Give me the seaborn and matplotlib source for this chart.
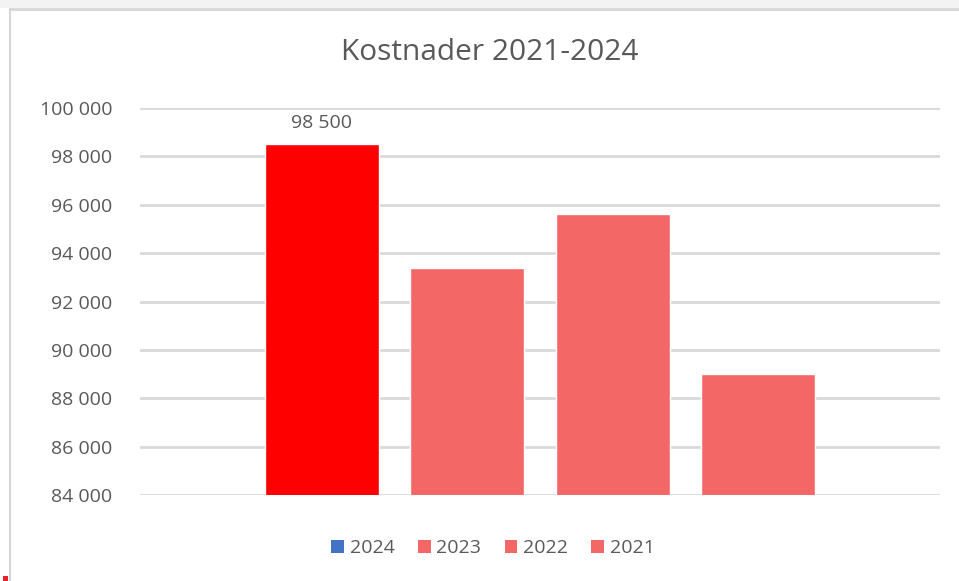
import matplotlib
matplotlib.use("Agg")
import matplotlib.pyplot as plt
from matplotlib.patches import Patch, Rectangle
from matplotlib.ticker import FuncFormatter
from matplotlib.lines import Line2D
import seaborn as sns
import pandas as pd

# data
years = ["2024", "2023", "2022", "2021"]
costs = [98500, 93400, 95600, 89000]
bar_colors = ["#FF0000", "#F36767", "#F36767", "#F36767"]
legend_colors = ["#4472C4", "#F36767", "#F36767", "#F36767"]
y_ticks = [84000, 86000, 88000, 90000, 92000, 94000, 96000, 98000, 100000]

TEXT = "#595959"
GRID = "#D9D9D9"

sns.set_theme(style="white")
plt.rcParams["font.family"] = ["Open Sans", "DejaVu Sans"]

df = pd.DataFrame({"year": years, "cost": costs})

fig = plt.figure(figsize=(9.59, 5.81), dpi=100)
W, H = 959, 581
ax = fig.add_axes([140 / W, (H - 495) / H, 800 / W, (495 - 108) / H])

sns.barplot(data=df, x="year", y="cost", hue="year", palette=bar_colors,
            legend=False, width=0.785, saturation=1, ax=ax, zorder=3)

ax.set_ylim(y_ticks[0], y_ticks[-1])
ax.set_xlim(-1.25, len(years) - 1 + 1.25)
ax.set_yticks(y_ticks)
ax.yaxis.set_major_formatter(FuncFormatter(lambda v, p: f"{v:,.0f}".replace(",", " ")))
ax.grid(axis="y", color=GRID, linewidth=2, zorder=0)
ax.set_axisbelow(True)
for s in ax.spines.values():
    s.set_visible(False)
ax.tick_params(axis="y", length=0, pad=20, labelsize=14, labelcolor=TEXT)
ax.set_xticks([])
ax.set_xlabel("")
ax.set_ylabel("")

# data label on the highest bar
i = costs.index(max(costs))
ax.annotate(f"{costs[i]:,.0f}".replace(",", " "), (i, costs[i]),
            xytext=(0, 9), textcoords="offset points", ha="center", va="bottom",
            fontsize=14, color=TEXT)

fig.text(490 / W, 1 - 52 / H, "Kostnader 2021-2024", ha="center", va="center",
         fontsize=21.5, color=TEXT)

handles = [Patch(facecolor=c, edgecolor="none") for c in legend_colors]
fig.legend(handles, years, loc="center", bbox_to_anchor=(493 / W, 1 - 548 / H),
           ncol=4, frameon=False, handlelength=0.65, handleheight=0.65,
           handletextpad=0.3, columnspacing=1.2, fontsize=14, labelcolor=TEXT)

# screenshot frame bits
fig.patches.append(Rectangle((0, 1 - 8 / H), 1, 8 / H, transform=fig.transFigure,
                             facecolor="#F3F3F3", edgecolor="none"))
fig.lines.append(Line2D([10 / W, 1], [1 - 9 / H, 1 - 9 / H], transform=fig.transFigure,
                        color="#D6D6D6", linewidth=2))
fig.lines.append(Line2D([10 / W, 10 / W], [0, 1 - 9 / H], transform=fig.transFigure,
                        color="#D6D6D6", linewidth=1.5))
fig.patches.append(Rectangle((3 / W, 0), 5 / W, 5 / H, transform=fig.transFigure,
                             facecolor="#E8202A", edgecolor="none"))

fig.savefig("out.png", dpi=100)
